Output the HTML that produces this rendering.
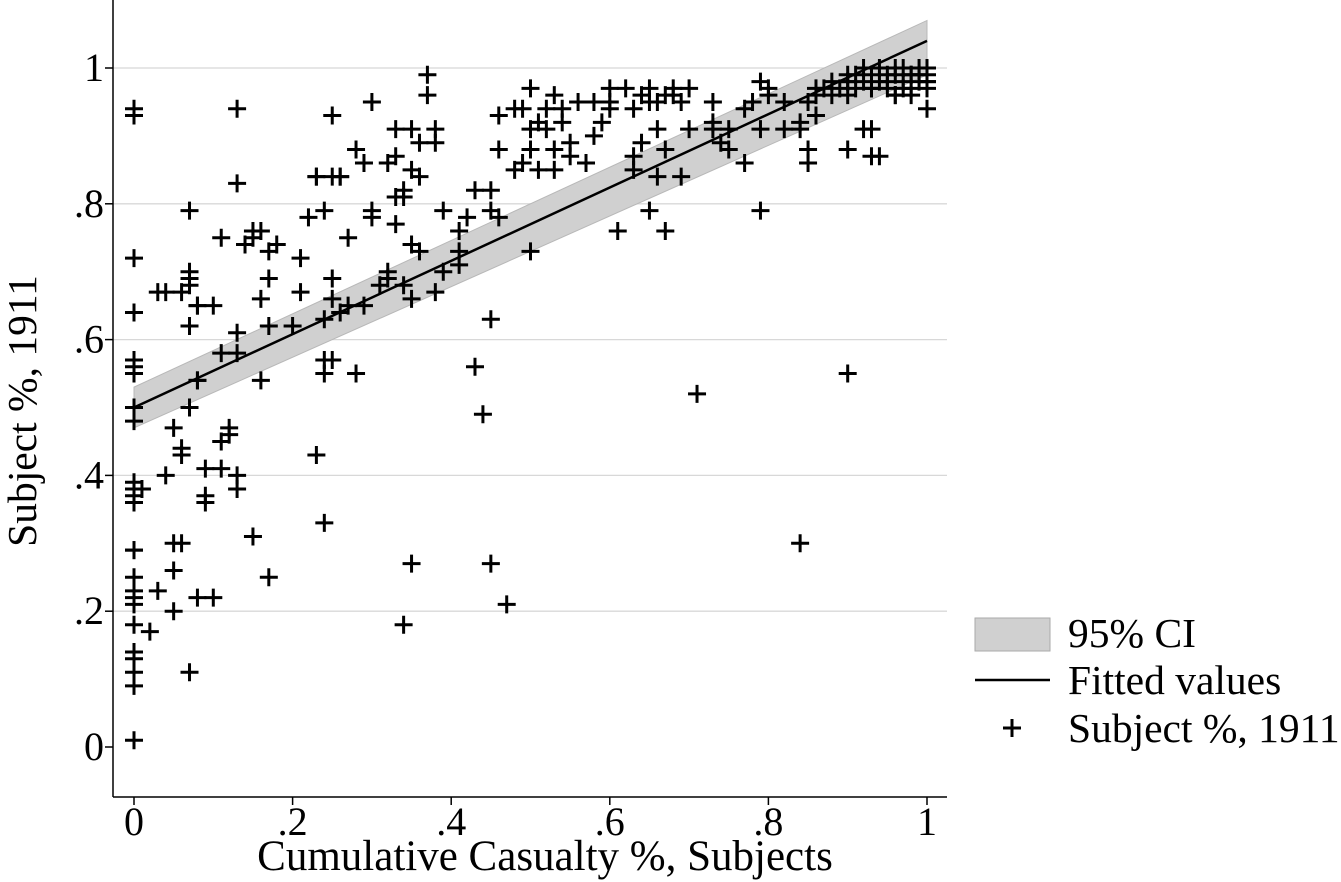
<!DOCTYPE html>
<html><head><meta charset="utf-8">
<style>
html,body{margin:0;padding:0;background:#fff;}
svg{display:block;font-family:"Liberation Serif",serif;}
</style></head>
<body>
<svg id="chart" width="1341" height="882">
  <g id="grid"></g>
  <g id="band"></g>
  <g id="pts"></g>
  <g id="axes"></g>
  <text x="36" y="411" font-size="41.5" text-anchor="middle" transform="rotate(-90 36 411)">Subject %, 1911</text>
  <text x="545" y="870" font-size="43" text-anchor="middle">Cumulative Casualty %, Subjects</text>
  <g>
    <rect x="975" y="618" width="75" height="33" fill="#d0d0d0" stroke="#aaa"/>
    <text x="1068" y="647" font-size="41.5">95% CI</text>
    <line x1="975" y1="680" x2="1050" y2="680" stroke="#000" stroke-width="2.5"/>
    <text x="1068" y="694" font-size="41.5">Fitted values</text>
    <path d="M1003 728h18M1012 719v18" stroke="#000" stroke-width="3"/>
    <text x="1068" y="742" font-size="41.5">Subject %, 1911</text>
  </g>
</svg>
<script>
const xTicks=[0,.2,.4,.6,.8,1];
const xTickLabels=["0",".2",".4",".6",".8","1"];
const yTicks=[0,.2,.4,.6,.8,1];
const yTickLabels=["0",".2",".4",".6",".8","1"];
const fitIntercept=0.50, fitSlope=0.54;
const ciLow=[0.47,0.99], ciHigh=[0.53,1.07];
const xs=[0,0,0,0,0,0,0,0,0,0,0,0,0,0,0,0,0,0,0,0,0,0,0,0,0,.01,.02,
.03,.04,.03,.05,.05,.06,.05,.04,.05,.06,.06,.06,.07,.07,.07,.07,.08,.07,.07,.08,.07,.08,.08,.08,.09,.09,.09,.1,.1,.11,.11,.11,.11,.12,.12,.13,.13,.13,.13,.13,.13,.14,.15,.15,.15,.16,.16,.16,.17,.17,.17,.17,.18,.2,.21,.21,.22,.23,.23,.23,.24,.24,.24,.24,.24,.25,.25,.25,.25,.25,.26,.26,.26,.27,.27,.28,.28,.29,.29,.3,.3,.3,.31,.32,.32,.32,.33,.33,.33,.33,.34,.34,.34,.34,.35,.35,.35,.35,.35,.36,.36,.36,.37,.37,.38,.38,.38,.39,.39,.41,.41,.41,.42,.43,.43,.44,.45,.45,.45,.45,.46,.46,.46,.47,.48,.48,.49,.49,.5,.5,.5,.5,.51,.51,.52,.52,.53,.53,.53,.54,.54,.55,.55,.56,.57,.58,.58,.59,.6,.6,.6,.61,.62,.63,.63,.63,.64,.64,.65,.65,.65,.66,.66,.66,.67,.67,.67,.68,.68,.69,.69,.7,.7,.71,.73,.73,.73,.74,.75,.75,.77,.77,.78,.79,.79,.79,.8,.8,.82,.82,.84,.84,.85,.85,.86,.9,.9,.9,.92,.93,.93,.94,1,
.84,.85,.86,.87,.88,.88,.89,.9,.9,.91,.91,.92,.92,.93,.93,.94,.94,.95,.95,.95,.96,.96,.96,.97,.97,.97,.98,.98,.98,.99,.99,.99,1,1,1,1,.86,.9,.93,.96,.98,1];
const ys=[.94,.93,.72,.64,.57,.56,.55,.50,.48,.39,.38,.37,.36,.29,.29,.25,.23,.22,.21,.18,.14,.13,.11,.09,.01,.38,.17,
.67,.67,.23,.26,.30,.30,.20,.40,.47,.43,.44,.67,.68,.70,.69,.62,.65,.50,.11,.22,.79,.54,.54,.65,.41,.36,.37,.65,.22,.58,.75,.41,.45,.47,.46,.61,.94,.83,.40,.38,.58,.74,.31,.75,.76,.76,.66,.54,.73,.69,.62,.25,.74,.62,.67,.72,.78,.84,.84,.43,.57,.55,.63,.33,.79,.84,.66,.69,.93,.57,.84,.64,.84,.75,.65,.55,.88,.86,.65,.95,.79,.78,.68,.69,.70,.86,.77,.87,.81,.91,.18,.68,.82,.81,.27,.91,.66,.74,.85,.84,.73,.89,.96,.99,.89,.91,.67,.79,.70,.73,.71,.76,.78,.82,.56,.49,.63,.82,.27,.79,.78,.88,.93,.21,.85,.94,.94,.86,.88,.73,.91,.97,.92,.85,.94,.91,.88,.85,.96,.92,.94,.89,.87,.95,.86,.90,.95,.92,.94,.95,.97,.76,.97,.87,.94,.85,.89,.96,.95,.97,.79,.95,.84,.91,.88,.96,.76,.96,.97,.84,.95,.91,.97,.52,.91,.95,.92,.89,.88,.91,.86,.94,.95,.79,.91,.98,.96,.97,.91,.95,.30,.91,.95,.86,.93,.98,.88,.55,.91,.91,.87,.87,.94,.92,.88,
.96,.97,.98,.96,.97,.99,.98,.97,.99,.98,1.0,.97,.99,.98,1.0,.99,.97,.98,1.0,.96,.99,.97,1.0,.98,.99,.96,.97,1.0,.99,.98,.97,.99,.98,1.0,.97,.96,.97,.96,.99,.98,.97,.99];

const X=v=>134+v*793, Y=v=>747-v*679;
const NS="http://www.w3.org/2000/svg";
function mk(tag,parent,attrs){const e=document.createElementNS(NS,tag);for(const k in attrs)e.setAttribute(k,attrs[k]);parent.appendChild(e);return e;}
const grid=document.getElementById('grid'),axes=document.getElementById('axes'),band=document.getElementById('band'),pts=document.getElementById('pts');
yTicks.forEach((t,i)=>{
  if(t>0){const g=mk('line',grid,{x1:113,x2:947,y1:Y(t),y2:Y(t),stroke:'#d8d8d8','stroke-width':1.3});
  
  }
  const tk=mk('line',axes,{x1:105,x2:113,y1:Y(t),y2:Y(t),stroke:'#000','stroke-width':1.5});
  
  
  const lb=mk('text',axes,{x:104,y:Y(t)+13,'font-size':40,'text-anchor':'end'});
  lb.textContent=yTickLabels[i];
  
  
});
xTicks.forEach((t,i)=>{
  const tk=mk('line',axes,{x1:X(t),x2:X(t),y1:797,y2:805,stroke:'#000','stroke-width':1.5});
  
  
  const lb=mk('text',axes,{x:X(t),y:835,'font-size':40,'text-anchor':'middle'});
  lb.textContent=xTickLabels[i];
  
  
});
const yl=mk('line',axes,{x1:113,x2:113,y1:0,y2:797,stroke:'#000','stroke-width':1.5});


const xl=mk('line',axes,{x1:113,x2:947,y1:797,y2:797,stroke:'#000','stroke-width':1.5});


const poly=mk('polygon',band,{points:`${X(0)},${Y(ciHigh[0])} ${X(1)},${Y(ciHigh[1])} ${X(1)},${Y(ciLow[1])} ${X(0)},${Y(ciLow[0])}`,fill:'#d0d0d0',stroke:'#b8b8b8'});


const fl=mk('line',band,{x1:X(0),y1:Y(fitIntercept),x2:X(1),y2:Y(fitIntercept+fitSlope),stroke:'#000','stroke-width':2.5});


xs.forEach((x,i)=>{
  const cx=X(x),cy=Y(ys[i]);
  const p=mk('path',pts,{d:`M${cx-9} ${cy}h18M${cx} ${cy-9}v18`,stroke:'#000','stroke-width':3});
  
  
});
</script>
</body></html>
